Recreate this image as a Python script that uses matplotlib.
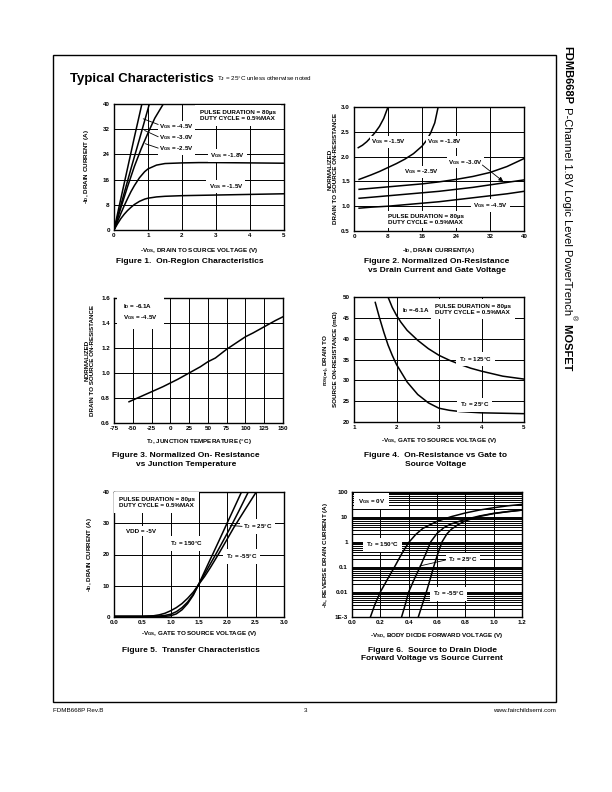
import matplotlib
matplotlib.use("Agg")
import matplotlib.pyplot as plt
from matplotlib.patches import Rectangle
from matplotlib.ticker import FixedLocator, FixedFormatter, FuncFormatter, LogLocator, NullFormatter

plt.rcParams["font.family"] = ["Liberation Sans", "DejaVu Sans"]
plt.rcParams["mathtext.fontset"] = "custom"
plt.rcParams["mathtext.rm"] = "Liberation Sans:bold"
plt.rcParams["mathtext.it"] = "Liberation Sans:bold"
plt.rcParams["mathtext.bf"] = "Liberation Sans:bold"
plt.rcParams["mathtext.default"] = "rm"
plt.rcParams["axes.unicode_minus"] = False

W, H = 612, 792

# Figure 1: on-region characteristics
vds_low = [0, 0.1, 0.2, 0.3, 0.4, 0.5, 0.6, 0.75, 0.9, 1.0, 1.25, 1.5, 2.0, 2.5, 3.0, 4.0, 5.0]
id_vgs15 = [0, 1.9, 3.6, 5.0, 6.2, 7.2, 8.1, 9.1, 9.8, 10.1, 10.5, 10.7, 10.9, 11.0, 11.1, 11.3, 11.5]
id_vgs18 = [0, 2.6, 5.2, 7.7, 10.0, 12.2, 14.1, 16.6, 18.5, 19.4, 20.6, 21.1, 21.3, 21.4, 21.4, 21.3, 21.2]
vds_45 = [0, 0.2, 0.4, 0.6, 0.82]
id_vgs45 = [0, 9.9, 19.7, 29.5, 40]
vds_30 = [0, 0.25, 0.5, 0.75, 1.04]
id_vgs30 = [0, 9.8, 19.5, 28.9, 40]
vds_25 = [0, 0.2, 0.4, 0.6, 0.8, 1.0, 1.2, 1.45]
id_vgs25 = [0, 7.0, 13.8, 20.2, 25.8, 30.8, 35.5, 40]

# Figure 2: normalized on-resistance vs drain current
id2_15 = [1, 2, 3, 4, 5, 6, 7, 8]
rn2_15 = [2.18, 2.23, 2.30, 2.39, 2.49, 2.61, 2.77, 3.0]
id2_18 = [1.2, 4, 6, 8, 10, 12, 14, 16, 17, 18, 19, 19.8]
rn2_18 = [1.54, 1.63, 1.70, 1.78, 1.86, 1.95, 2.06, 2.21, 2.32, 2.47, 2.68, 3.0]
id2_hi = [1.2, 4, 8, 12, 16, 20, 24, 28, 32, 36, 40]
rn2_25 = [1.34, 1.36, 1.39, 1.42, 1.45, 1.49, 1.54, 1.60, 1.68, 1.80, 1.96]
rn2_30 = [1.16, 1.18, 1.21, 1.24, 1.27, 1.30, 1.34, 1.38, 1.43, 1.48, 1.53]
rn2_45 = [0.96, 0.98, 1.00, 1.03, 1.06, 1.09, 1.13, 1.17, 1.21, 1.25, 1.30]

# Figure 3: normalized on-resistance vs junction temperature
tj3 = [-55, -40, -25, -10, 0, 10, 25, 40, 50, 60, 75, 90, 100, 110, 125, 140, 150]
rn3 = [0.77, 0.81, 0.85, 0.89, 0.92, 0.95, 1.00, 1.05, 1.09, 1.12, 1.19, 1.25, 1.29, 1.32, 1.37, 1.42, 1.45]

# Figure 4: on-resistance vs gate voltage
vgs4_125 = [1.8, 1.9, 2.0, 2.1, 2.25, 2.5, 2.75, 3.0, 3.25, 3.5, 3.75, 4.0, 4.5, 5.0]
rds4_125 = [50, 47.5, 45.6, 44.0, 42.0, 39.6, 37.6, 36.0, 34.8, 33.8, 32.9, 32.2, 31.0, 30.3]
vgs4_25 = [1.5, 1.6, 1.7, 1.8, 1.9, 2.0, 2.25, 2.5, 2.75, 3.0, 3.25, 3.5, 4.0, 4.5, 5.0]
rds4_25 = [48.7, 45.0, 41.6, 38.5, 36.0, 33.8, 29.6, 26.6, 24.6, 23.3, 22.8, 22.5, 22.2, 22.1, 22.0]

# Figure 5: transfer characteristics
vgs5_150 = [0, 0.5, 0.7, 0.8, 0.9, 1.0, 1.1, 1.2, 1.3, 1.4, 1.49, 1.6, 1.7, 1.84, 2.0, 2.12, 2.3, 2.51]
id5_150 = [0.2, 0.2, 0.4, 0.7, 1.2, 2.0, 3.0, 4.3, 6.0, 8.0, 10.3, 13.0, 15.8, 20.0, 25.0, 28.8, 34.0, 40]
vgs5_25 = [0, 0.5, 0.8, 0.9, 1.0, 1.1, 1.2, 1.3, 1.4, 1.49, 1.6, 1.7, 1.8, 1.9, 2.05, 2.2, 2.37]
id5_25 = [0.2, 0.2, 0.3, 0.5, 0.9, 1.7, 3.0, 4.8, 7.3, 10.3, 13.8, 17.0, 20.2, 23.5, 28.5, 33.8, 40]
vgs5_m55 = [0, 0.5, 0.9, 1.0, 1.1, 1.2, 1.3, 1.4, 1.49, 1.6, 1.7, 1.75, 1.85, 2.0, 2.1, 2.25]
id5_m55 = [0.2, 0.2, 0.2, 0.4, 1.0, 2.3, 4.3, 7.0, 10.3, 14.6, 18.5, 20.4, 24.3, 30.2, 34.1, 40]

# Figure 6: body diode forward voltage
vsd6_150 = [0.13, 0.16, 0.2, 0.25, 0.3, 0.35, 0.4, 0.45, 0.5, 0.6, 0.7, 0.8, 0.9, 1.0, 1.1, 1.2]
is6_150 = [1e-3, 3e-3, 0.01, 0.032, 0.1, 0.33, 0.95, 2.0, 3.5, 6.7, 10.3, 14.5, 19, 23.5, 28, 32]
vsd6_25 = [0.35, 0.375, 0.4, 0.44, 0.48, 0.52, 0.555, 0.6, 0.65, 0.7, 0.8, 0.9, 1.0, 1.1, 1.2]
is6_25 = [1e-3, 3e-3, 0.01, 0.033, 0.1, 0.33, 1.0, 2.2, 3.8, 5.3, 8.0, 11.0, 14.0, 16.5, 19.0]
vsd6_m55 = [0.468, 0.495, 0.525, 0.55, 0.576, 0.605, 0.635, 0.67, 0.7, 0.75, 0.8, 0.9, 1.0, 1.1, 1.2]
is6_m55 = [1e-3, 3e-3, 0.01, 0.03, 0.1, 0.33, 1.0, 2.1, 3.2, 5.0, 7.0, 10.5, 13.7, 16.3, 18.8]
is6_ticks = [1e-3, 0.01, 0.1, 1, 10, 100]
is6_labels = ["1E-3", "0.01", "0.1", "1", "10", "100"]

FS = 4.5
LW = 1.1


def fx(x):
    return x / W


def fy(y):
    return 1 - y / H


def make_axes(fig, left, top, right, bottom):
    return fig.add_axes([fx(left), fy(bottom), (right - left) / W, (bottom - top) / H])


def style_axes(ax, xlabel, ylabel, xlab_y, ylab_x):
    ax.grid(True, color="black", linewidth=0.7)
    ax.set_axisbelow(True)
    ax.tick_params(which="both", length=0, labelsize=FS)
    ax.tick_params(axis="x", pad=2.5)
    ax.tick_params(axis="y", pad=3)
    for lab in ax.get_xticklabels() + ax.get_yticklabels():
        lab.set_fontweight("bold")
    for s in ax.spines.values():
        s.set_linewidth(1.0)
    ax.set_xlabel(xlabel, fontsize=FS, fontweight="bold")
    ax.set_ylabel(ylabel, fontsize=FS, fontweight="bold")
    ax.xaxis.set_label_coords(0.5, xlab_y)
    ax.yaxis.set_label_coords(ylab_x, 0.5)


def label(ax, x, y, s, ha="left", pad=1.0, **kw):
    ax.text(x, y, s, fontsize=FS, fontweight="bold", ha=ha, va="center",
            bbox=dict(facecolor="white", edgecolor="none", pad=pad), zorder=4, **kw)


def leader(ax, xy, xytext, arrow=False):
    style = "-|>,head_length=0.25,head_width=0.12" if arrow else "-"
    ax.annotate("", xy=xy, xytext=xytext,
                arrowprops=dict(arrowstyle=style, lw=0.6, color="black",
                                shrinkA=0, shrinkB=0), zorder=5)


fig = plt.figure(figsize=(W / 100, H / 100), dpi=100)

# page frame and headers
bg = fig.add_axes([0, 0, 1, 1])
bg.set_xlim(0, 1)
bg.set_ylim(0, 1)
bg.axis("off")
bg.add_patch(Rectangle((fx(53), fy(702)), (556 - 53) / W, (702 - 55) / H,
                       fill=False, lw=1.0, color="black"))
title = bg.text(fx(70), fy(79), "Typical Characteristics", fontsize=9.5,
                fontweight="bold", va="center")
bg.annotate("T$_J$ = 25°C unless otherwise noted", xy=(1, 0), xycoords=title,
            xytext=(2.5, 1.5), textcoords="offset points", fontsize=4.5, va="bottom")

t1 = bg.text(fx(567), fy(46), "FDMB668P", rotation=-90, ha="center", va="top",
             fontsize=8, fontweight="bold")
t2 = bg.annotate(" P-Channel 1.8V Logic Level PowerTrench", xy=(0.5, 0), xycoords=t1,
                 rotation=-90, ha="center", va="top", fontsize=8)
bg.annotate("\u00ae", xy=(0.5, 0), xycoords=t2, xytext=(1.5, 0), textcoords="offset points",
            rotation=-90, ha="left", va="top", fontsize=5)
bg.annotate(" MOSFET", xy=(0.5, 0), xycoords=t2, xytext=(0, -4.5), textcoords="offset points",
            rotation=-90, ha="center", va="top", fontsize=8, fontweight="bold")

bg.text(fx(53), fy(710), "FDMB668P Rev.B", fontsize=4.5, va="center")
bg.text(fx(306), fy(710), "3", fontsize=4.5, va="center", ha="center")
bg.text(fx(556), fy(710), "www.fairchildsemi.com", fontsize=4.5, va="center", ha="right")

captions = [
    (190, 258, "Figure 1.  On-Region Characteristics"),
    (437, 258, "Figure 2. Normalized On-Resistance\nvs Drain Current and Gate Voltage"),
    (186, 452, "Figure 3. Normalized On- Resistance\nvs Junction Temperature"),
    (436, 452, "Figure 4.  On-Resistance vs Gate to\nSource Voltage"),
    (191, 647, "Figure 5.  Transfer Characteristics"),
    (432, 647, "Figure 6.  Source to Drain Diode\nForward Voltage vs Source Current"),
]
for cx, cy, txt in captions:
    bg.text(fx(cx), fy(cy), txt, fontsize=6, fontweight="bold", ha="center", va="top",
            linespacing=1.3)

# ---- Figure 1
ax1 = make_axes(fig, 114, 104, 284, 230)
for x, y in [(vds_low, id_vgs15), (vds_low, id_vgs18), (vds_45, id_vgs45),
             (vds_30, id_vgs30), (vds_25, id_vgs25)]:
    ax1.plot(x, y, color="black", lw=LW)
ax1.set_xlim(0, 5)
ax1.set_ylim(0, 40)
ax1.set_xticks(range(0, 6))
ax1.set_yticks(range(0, 41, 8))
style_axes(ax1, "-V$_{DS}$, DRAIN TO SOURCE VOLTAGE (V)", "-I$_D$, DRAIN CURRENT (A)", -0.127, -0.135)
label(ax1, 2.53, 36.4, "PULSE DURATION = 80\u00b5s\nDUTY CYCLE = 0.5%MAX", pad=3.5, linespacing=1.15)
label(ax1, 1.32, 32.7, "V$_{GS}$ = -4.5V")
label(ax1, 1.32, 29.2, "V$_{GS}$ = -3.0V")
label(ax1, 1.32, 25.7, "V$_{GS}$ = -2.5V")
leader(ax1, (0.86, 35.3), (1.3, 33.5))
leader(ax1, (0.9, 31.6), (1.3, 29.6))
leader(ax1, (0.92, 27.4), (1.3, 26.0))
label(ax1, 3.33, 23.7, "V$_{GS}$ = -1.8V", ha="center", pad=1.5)
label(ax1, 3.29, 13.9, "V$_{GS}$ = -1.5V", ha="center", pad=1.5)

# ---- Figure 2
ax2 = make_axes(fig, 354, 107, 524, 231)
for x, y in [(id2_15, rn2_15), (id2_18, rn2_18), (id2_hi, rn2_25),
             (id2_hi, rn2_30), (id2_hi, rn2_45)]:
    ax2.plot(x, y, color="black", lw=LW)
ax2.set_xlim(0, 40)
ax2.set_ylim(0.5, 3.0)
ax2.set_xticks(range(0, 41, 8))
ax2.set_yticks([0.5, 1.0, 1.5, 2.0, 2.5, 3.0])
ax2.yaxis.set_major_formatter(FuncFormatter(lambda v, p: f"{v:.1f}"))
style_axes(ax2, "-I$_D$, DRAIN CURRENT(A)", "NORMALIZED\nDRAIN TO SOURCE ON-RESISTANCE", -0.121, -0.094)
label(ax2, 8.2, 2.3, "V$_{GS}$ = -1.5V", ha="center")
label(ax2, 21.3, 2.3, "V$_{GS}$ = -1.8V", ha="center")
label(ax2, 15.9, 1.69, "V$_{GS}$ = -2.5V", ha="center")
label(ax2, 26.2, 1.89, "V$_{GS}$ = -3.0V", ha="center")
leader(ax2, (35.1, 1.5), (30.2, 1.83), arrow=True)
label(ax2, 32.1, 1.02, "V$_{GS}$ = -4.5V", ha="center", pad=1.5)
label(ax2, 8.0, 0.735, "PULSE DURATION = 80\u00b5s\nDUTY CYCLE = 0.5%MAX", pad=2, linespacing=1.25)

# ---- Figure 3
ax3 = make_axes(fig, 114, 298, 283, 423)
ax3.plot(tj3, rn3, color="black", lw=LW)
ax3.set_xlim(-75, 150)
ax3.set_ylim(0.6, 1.6)
ax3.set_xticks(range(-75, 151, 25))
ax3.set_yticks([0.6, 0.8, 1.0, 1.2, 1.4, 1.6])
ax3.yaxis.set_major_formatter(FuncFormatter(lambda v, p: f"{v:.1f}"))
style_axes(ax3, "T$_J$, JUNCTION TEMPERATURE (°C)", "NORMALIZED\nDRAIN TO SOURCE ON-RESISTANCE", -0.112, -0.112)
label(ax3, -63, 1.485, "I$_D$ = -6.1A\nV$_{GS}$ = -4.5V", pad=4.5, linespacing=1.35)

# ---- Figure 4
ax4 = make_axes(fig, 354, 297, 524, 422)
ax4.plot(vgs4_125, rds4_125, color="black", lw=LW)
ax4.plot(vgs4_25, rds4_25, color="black", lw=LW)
ax4.set_xlim(1, 5)
ax4.set_ylim(20, 50)
ax4.set_xticks(range(1, 6))
ax4.set_yticks(range(20, 51, 5))
style_axes(ax4, "-V$_{GS}$, GATE TO SOURCE VOLTAGE (V)",
           "r$_{DS(on)}$, DRAIN TO\nSOURCE ON-RESISTANCE (m\u03a9)", -0.112, -0.094)
label(ax4, 2.13, 46.8, "I$_D$ =-6.1A")
label(ax4, 2.9, 47.1, "PULSE DURATION = 80\u00b5s\nDUTY CYCLE = 0.5%MAX", pad=3, linespacing=1.25)
label(ax4, 3.86, 35.1, "T$_J$ = 125°C", ha="center", pad=2)
label(ax4, 3.84, 24.1, "T$_J$ = 25°C", ha="center", pad=2)

# ---- Figure 5
ax5 = make_axes(fig, 114, 492, 284, 617)
for x, y in [(vgs5_150, id5_150), (vgs5_25, id5_25), (vgs5_m55, id5_m55)]:
    ax5.plot(x, y, color="black", lw=LW)
ax5.set_xlim(0, 3)
ax5.set_ylim(0, 40)
ax5.set_xticks([0, 0.5, 1.0, 1.5, 2.0, 2.5, 3.0])
ax5.xaxis.set_major_formatter(FuncFormatter(lambda v, p: f"{v:.1f}"))
ax5.set_yticks(range(0, 41, 10))
style_axes(ax5, "-V$_{GS}$, GATE TO SOURCE VOLTAGE (V)", "-I$_D$, DRAIN CURRENT (A)", -0.096, -0.118)
label(ax5, 0.08, 36.6, "PULSE DURATION = 80\u00b5s\nDUTY CYCLE = 0.5%MAX", pad=3.5, linespacing=1.25)
label(ax5, 0.22, 27.5, "VDD = -5V", pad=2)
label(ax5, 0.99, 23.5, "T$_J$ = 150°C", pad=2)
label(ax5, 2.28, 29.0, "T$_J$ = 25°C", pad=2)
leader(ax5, (2.05, 29.3), (2.26, 29.0))
label(ax5, 1.98, 19.3, "T$_J$ = -55°C", pad=2)

# ---- Figure 6
ax6 = make_axes(fig, 352, 492, 522, 617)
for x, y in [(vsd6_150, is6_150), (vsd6_25, is6_25), (vsd6_m55, is6_m55)]:
    ax6.plot(x, y, color="black", lw=LW)
ax6.set_yscale("log")
ax6.set_xlim(0, 1.2)
ax6.set_ylim(1e-3, 100)
ax6.set_xticks([0, 0.2, 0.4, 0.6, 0.8, 1.0, 1.2])
ax6.xaxis.set_major_formatter(FuncFormatter(lambda v, p: f"{v:.1f}"))
ax6.yaxis.set_major_locator(FixedLocator(is6_ticks))
ax6.yaxis.set_major_formatter(FixedFormatter(is6_labels))
ax6.yaxis.set_minor_locator(LogLocator(base=10, subs=range(2, 10), numticks=20))
ax6.yaxis.set_minor_formatter(NullFormatter())
style_axes(ax6, "-V$_{SD}$, BODY DIODE FORWARD VOLTAGE (V)", "-I$_S$, REVERSE DRAIN CURRENT (A)", -0.112, -0.129)
ax6.grid(True, which="minor", axis="y", color="black", linewidth=0.7)
label(ax6, 0.04, 43, "V$_{GS}$ = 0V", pad=2.5)
label(ax6, 0.1, 0.76, "T$_J$ = 150°C", pad=2)
label(ax6, 0.68, 0.19, "T$_J$ = 25°C", pad=2)
leader(ax6, (0.48, 0.11), (0.66, 0.19))
label(ax6, 0.57, 0.0085, "T$_J$ = -55°C", pad=2)

fig.savefig("out.png", dpi=100)
